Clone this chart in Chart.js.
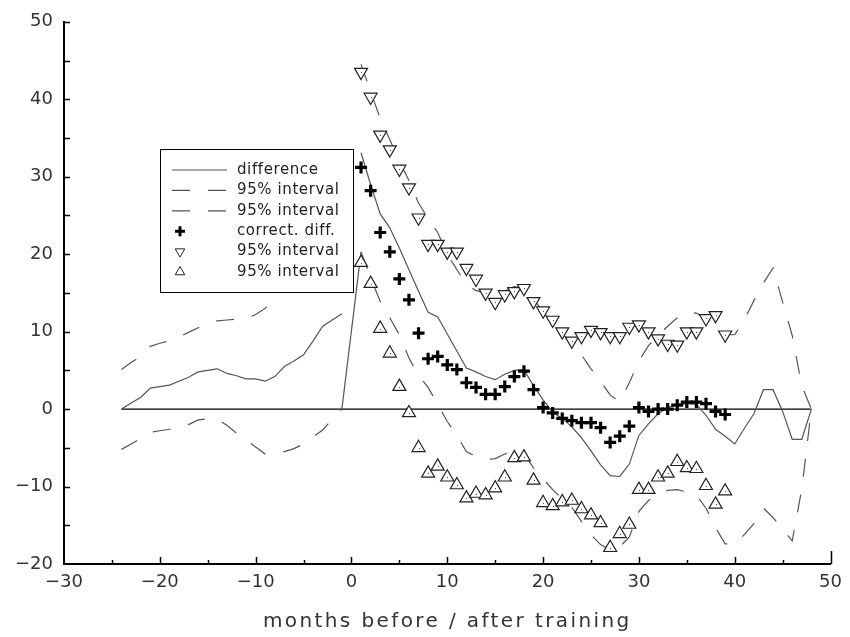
<!DOCTYPE html>
<html>
<head>
<meta charset="utf-8">
<title>difference before / after training</title>
<script src="https://cdn.jsdelivr.net/npm/chart.js@4.4.1/dist/chart.umd.min.js"></script>
<style>
  body { margin: 0; background: #fff; }
  #wrap { width: 850px; height: 637px; }
</style>
</head>
<body>
<div id="wrap"><canvas id="myChart" width="850" height="637"></canvas></div>
<script>
// months relative to training (no value at month 0)
const monthsBefore = [-24, -23, -22, -21, -20, -19, -18, -17, -16, -15, -14, -13,
                      -12, -11, -10, -9, -8, -7, -6, -5, -4, -3, -2, -1];
const monthsAfter = [1, 2, 3, 4, 5, 6, 7, 8, 9, 10, 11, 12, 13, 14, 15, 16,
                     17, 18, 19, 20, 21, 22, 23, 24, 25, 26, 27, 28, 29, 30, 31, 32,
                     33, 34, 35, 36, 37, 38, 39, 40, 41, 42, 43, 44, 45, 46, 47, 48];

// difference (solid line)
const diffBefore = [0, 0.8, 1.5, 2.7, 2.9, 3.1, 3.6, 4.1, 4.8, 5.0, 5.2, 4.6,
                    4.3, 3.9, 3.9, 3.6, 4.2, 5.5, 6.2, 7.0, 8.8, 10.7, 11.5, 12.3];
const diffAfter = [33.1, 29.0, 25.2, 23.4, 20.8, 18.0, 15.2, 12.5, 11.9, 9.7,
                   7.5, 5.3, 4.8, 4.2, 3.8, 4.5, 5.0, 5.1, 3.0, 1.2,
                   -0.4, -1.2, -2.3, -3.7, -5.4, -7.2, -8.6, -8.7, -7.1, -3.4,
                   -1.9, -0.6, 0.2, 0.6, 0.7, 0.6, -0.8, -2.6, -3.5, -4.5,
                   -2.5, -0.6, 2.5, 2.5, -0.3, -3.9, -3.9, 0];

// 95% interval (dashed lines)
const upperBefore = [5.1, 6.0, 6.8, 8.1, 8.5, 8.8, 9.3, 9.9, 10.5, 11.1, 11.4, 11.5,
                     11.6, 11.7, 12.2, 13.0, 14.5, 16.0, 17.5, 19.0, 20.5, 22.0, 23.3, 24.6];
const upperAfter = [44.5, 41.0, 37.5, 34.8, 32.0, 29.5, 26.6, 24.6, 22.8, 20.0,
                    18.0, 16.1, 15.3, 15.0, 14.9, 15.4, 15.8, 15.6, 14.3, 12.5,
                    11.3, 9.8, 8.3, 7.0, 5.2, 3.6, 1.8, 1.0, 3.4, 6.2,
                    8.2, 9.5, 10.7, 11.8, 12.5, 12.4, 11.6, 10.6, 9.6, 9.6,
                    11.5, 14.0, 16.3, 18.2, 13.8, 9.5, 3.0, 0];
const lowerBefore = [-5.2, -4.5, -3.8, -3.0, -2.8, -2.6, -2.4, -2.0, -1.4, -1.25, -1.3, -2.1,
                     -3.1, -4.0, -4.9, -5.8, -5.7, -5.5, -5.1, -4.5, -3.6, -2.7, -1.3, 0];
const lowerAfter = [20.3, 17.0, 13.9, 11.8, 9.6, 6.6, 4.3, 2.8, 0.6, -1.6,
                    -3.4, -5.5, -6.1, -6.5, -6.4, -5.8, -5.4, -5.8, -7.6, -9.0,
                    -10.4, -11.6, -12.7, -14.5, -16.2, -17.5, -18.2, -17.8, -16.5, -13.2,
                    -11.8, -11.0, -10.5, -10.4, -10.7, -11.1, -12.8, -15.3, -17.4, -17.4,
                    -16.2, -14.8, -12.8, -14.0, -15.5, -17.0, -10.3, 0];

// corrected difference with its 95% interval (markers)
const markerMonths = [1, 2, 3, 4, 5, 6, 7, 8, 9, 10, 11, 12, 13, 14, 15, 16, 17, 18, 19, 20,
                      21, 22, 23, 24, 25, 26, 27, 28, 29, 30, 31, 32, 33, 34, 35, 36, 37, 38, 39];
const corrDiff = [31.2, 28.2, 22.8, 20.3, 16.8, 14.1, 9.8, 6.5, 6.8, 5.7,
                  5.1, 3.4, 2.8, 1.9, 1.9, 2.9, 4.2, 4.9, 2.5, 0.2,
                  -0.5, -1.2, -1.5, -1.75, -1.75, -2.4, -4.3, -3.5, -2.2, 0.2,
                  -0.3, 0, 0, 0.5, 0.9, 0.9, 0.7, -0.3, -0.7];
const corrUpper = [43.5, 40.3, 35.4, 33.5, 31.0, 28.6, 24.7, 21.3, 21.3, 20.3,
                   20.3, 18.2, 16.8, 15.0, 13.8, 14.8, 15.2, 15.6, 13.9, 12.7,
                   11.5, 10.0, 8.8, 9.4, 10.2, 9.9, 9.4, 9.4, 10.6, 10.9,
                   10.0, 9.1, 8.4, 8.3, 10.0, 10.0, 11.7, 12.1, 9.6];
const corrLower = [18.9, 16.2, 10.4, 7.2, 2.9, -0.5, -5.0, -8.3, -7.4, -8.8,
                   -9.8, -11.5, -10.9, -11.1, -10.2, -8.8, -6.3, -6.2, -9.2, -12.1,
                   -12.5, -12.0, -11.8, -12.9, -13.7, -14.7, -17.9, -16.1, -14.9, -10.4,
                   -10.4, -8.8, -8.3, -6.8, -7.6, -7.7, -9.9, -12.3, -10.6];

const xTicks = [-30, -20, -10, 0, 10, 20, 30, 40, 50];
const yTicks = [-20, -10, 0, 10, 20, 30, 40, 50];
const xTitle = 'months before / after training';

const DASH = [18, 18];
const LINE_COLOR = '#555';

function pts(xs, ys) {
  return xs.map((x, i) => ({ x: x, y: ys[i] }));
}
// before and after joined, with a break at month 0
function withGap(before, after) {
  return pts(monthsBefore, before).concat([{ x: 0, y: null }], pts(monthsAfter, after));
}

function fmt(v) {
  return v < 0 ? '\u2212' + Math.abs(v) : String(v);
}

// small ticks pointing into the plot, every 5 units
const innerTicks = {
  id: 'innerTicks',
  afterDraw(chart) {
    const ctx = chart.ctx;
    const a = chart.chartArea;
    const sx = chart.scales.x, sy = chart.scales.y;
    ctx.save();
    ctx.strokeStyle = '#000';
    ctx.lineWidth = 1.5;
    ctx.beginPath();
    for (let v = sx.min + 5; v <= sx.max; v += 5) {
      const px = Math.round(sx.getPixelForValue(v)) + 0.5;
      let len = v % 10 === 0 ? 7 : 4;
      if (v === sx.max) len = 13;
      ctx.moveTo(px, a.bottom);
      ctx.lineTo(px, a.bottom - len);
    }
    for (let v = sy.min + 5; v <= sy.max; v += 5) {
      const py = Math.round(sy.getPixelForValue(v)) + 0.5;
      ctx.moveTo(a.left, py);
      ctx.lineTo(a.left + 6, py);
    }
    ctx.stroke();

    // axis title, spaced out like the plotter font
    ctx.font = '20px "DejaVu Sans"';
    ctx.letterSpacing = '2.4px';
    ctx.fillStyle = '#333';
    ctx.textAlign = 'center';
    ctx.textBaseline = 'middle';
    ctx.fillText(xTitle, (a.left + a.right) / 2, 622);
    ctx.restore();
  }
};

// little dot inside every triangle marker
const triangleDots = {
  id: 'triangleDots',
  afterDatasetsDraw(chart) {
    const ctx = chart.ctx;
    ctx.save();
    ctx.fillStyle = '#444';
    chart.data.datasets.forEach((ds, i) => {
      if (ds.pointStyle !== 'triangle') return;
      chart.getDatasetMeta(i).data.forEach(el => {
        ctx.fillRect(Math.round(el.x), Math.round(el.y), 1, 1);
      });
    });
    ctx.restore();
  }
};

// boxed legend placed inside the plot
const boxLegend = {
  id: 'boxLegend',
  afterDraw(chart) {
    const ctx = chart.ctx;
    const left = 160, top = 149, w = 193, h = 143;
    const items = chart.data.datasets.filter(d => d.label);
    ctx.save();
    ctx.fillStyle = '#fff';
    ctx.fillRect(left, top, w, h);
    ctx.strokeStyle = '#000';
    ctx.lineWidth = 1;
    ctx.strokeRect(left + 0.5, top + 0.5, w, h);
    ctx.font = '15px "DejaVu Sans"';
    ctx.letterSpacing = '0.6px';
    ctx.textBaseline = 'middle';
    items.forEach((ds, i) => {
      const y = top + 21 + i * 20.4;
      if (ds.showLine) {
        ctx.strokeStyle = ds.borderColor;
        ctx.lineWidth = 1.2;
        ctx.setLineDash(ds.borderDash || []);
        ctx.beginPath();
        ctx.moveTo(left + 12, y);
        ctx.lineTo(left + 67, y);
        ctx.stroke();
        ctx.setLineDash([]);
      } else {
        ctx.strokeStyle = ds.borderColor;
        ctx.fillStyle = '#fff';
        ctx.lineWidth = ds.pointStyle === 'cross' ? 3 : 1;
        Chart.helpers.drawPoint(ctx, {
          pointStyle: ds.pointStyle,
          rotation: ds.rotation || 0,
          radius: ds.pointStyle === 'cross' ? 5 : 5.5,
          borderWidth: ds.borderWidth
        }, left + 20, y);
      }
      ctx.fillStyle = '#222';
      ctx.fillText(ds.label, left + 77, y);
    });
    ctx.restore();
  }
};

Chart.defaults.font.family = '"DejaVu Sans", sans-serif';
Chart.defaults.color = '#333';

const ctx = document.getElementById('myChart').getContext('2d');
const myChart = new Chart(ctx, {
  type: 'scatter',
  data: {
    datasets: [
      {
        label: 'difference',
        data: withGap(diffBefore, diffAfter),
        showLine: true, pointRadius: 0,
        borderColor: LINE_COLOR, borderWidth: 1.2,
        order: 2
      },
      {
        label: '95% interval',
        data: withGap(upperBefore, upperAfter),
        showLine: true, pointRadius: 0,
        borderColor: LINE_COLOR, borderWidth: 1.2, borderDash: DASH,
        order: 2
      },
      {
        label: '95% interval',
        data: pts(monthsBefore, lowerBefore).concat(pts(monthsAfter, lowerAfter)),
        showLine: true, pointRadius: 0,
        borderColor: LINE_COLOR, borderWidth: 1.2, borderDash: DASH,
        // the jump across month 0 is drawn solid
        segment: {
          borderDash: c => (c.p1.parsed.x - c.p0.parsed.x > 1 ? [] : DASH)
        },
        order: 2
      },
      {
        label: 'correct. diff.',
        data: pts(markerMonths, corrDiff),
        showLine: false,
        pointStyle: 'cross', pointRadius: 6, borderWidth: 3.2,
        borderColor: '#000', backgroundColor: '#000',
        order: 0
      },
      {
        label: '95% interval',
        data: pts(markerMonths, corrUpper),
        showLine: false,
        pointStyle: 'triangle', rotation: 180, pointRadius: 7.5, borderWidth: 1.2,
        borderColor: '#222', backgroundColor: '#fff',
        order: 1
      },
      {
        label: '95% interval',
        data: pts(markerMonths, corrLower),
        showLine: false,
        pointStyle: 'triangle', pointRadius: 7.5, borderWidth: 1.2,
        borderColor: '#222', backgroundColor: '#fff',
        order: 1
      },
      {
        label: '',
        data: [{ x: monthsBefore[0], y: 0 }, { x: monthsAfter[monthsAfter.length - 1], y: 0 }],
        showLine: true, pointRadius: 0,
        borderColor: '#000', borderWidth: 1.3,
        order: 3
      }
    ]
  },
  options: {
    responsive: false,
    animation: false,
    events: [],
    layout: { padding: { top: 18, right: 14, left: 0, bottom: 0 } },
    plugins: {
      legend: { display: false },
      tooltip: { enabled: false }
    },
    scales: {
      x: {
        type: 'linear',
        min: xTicks[0], max: xTicks[xTicks.length - 1],
        afterFit: s => { s.height = 73; },
        afterBuildTicks: s => { s.ticks = xTicks.map(v => ({ value: v })); },
        grid: { display: false, drawTicks: false },
        border: { display: true, color: '#000', width: 2 },
        ticks: { padding: 8, font: { size: 18 }, color: '#333', callback: fmt, maxRotation: 0 },
        title: { display: false }
      },
      y: {
        type: 'linear',
        min: yTicks[0], max: yTicks[yTicks.length - 1],
        afterFit: s => { s.width = 64; },
        afterBuildTicks: s => { s.ticks = yTicks.map(v => ({ value: v })); },
        grid: { display: false, drawTicks: false },
        border: { display: true, color: '#000', width: 2 },
        ticks: { padding: 11, font: { size: 18 }, color: '#333', callback: fmt }
      }
    }
  },
  plugins: [innerTicks, triangleDots, boxLegend]
});
</script>
</body>
</html>
